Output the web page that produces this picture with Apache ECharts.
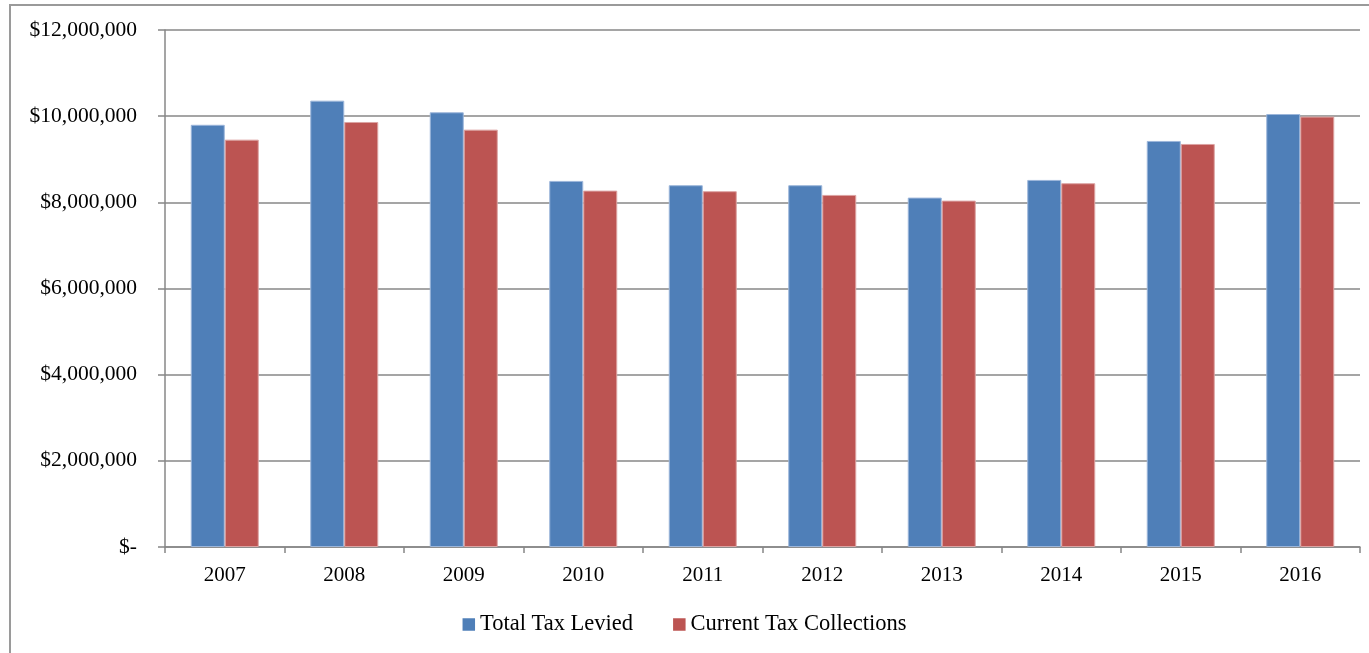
<!DOCTYPE html>
<html>
<head>
<meta charset="utf-8">
<script src="https://cdn.jsdelivr.net/npm/echarts@6/dist/echarts.min.js"></script>
<style>
  html, body { margin: 0; padding: 0; background: #ffffff; }
  #chart { width: 1369px; height: 653px; }
</style>
</head>
<body>
<div id="chart"></div>
<script>
// Fiscal years shown on the category axis
const years = ['2007', '2008', '2009', '2010', '2011', '2012', '2013', '2014', '2015', '2016'];

// Property tax levied vs. collected in the current year (dollars)
const totalTaxLevied = [9800000, 10360000, 10090000, 8497000, 8397000, 8397000, 8110000, 8520000, 9425000, 10050000];
const currentTaxCollections = [9455000, 9865000, 9687000, 8272000, 8258000, 8172000, 8040000, 8443000, 9355000, 9990000];

const seriesNames = ['Total Tax Levied', 'Current Tax Collections'];

const fontFamily = '"Liberation Serif", "DejaVu Serif", serif';
const axisGray = '#878787';

function dollarLabel(v) {
  if (v === 0) return '$-';
  return '$' + v.toLocaleString('en-US');
}

const chart = echarts.init(document.getElementById('chart'));

chart.setOption({
  animation: false,
  backgroundColor: '#ffffff',
  textStyle: { fontFamily: fontFamily, color: '#000000' },
  graphic: [{
    type: 'rect',
    shape: { x: 10, y: 5, width: 1400, height: 700 },
    style: { fill: 'none', stroke: '#9a9a9a', lineWidth: 2 },
    silent: true
  }],
  grid: { left: 165, right: 9, top: 30, bottom: 106 },
  legend: {
    top: 608,
    left: 'center',
    itemWidth: 12.5,
    itemHeight: 12.5,
    itemGap: 40,
    icon: 'rect',
    itemStyle: { borderWidth: 0 },
    textStyle: { fontFamily: fontFamily, fontSize: 22.5, color: '#000000' },
    data: seriesNames
  },
  xAxis: {
    type: 'category',
    data: years,
    axisLine: { lineStyle: { color: axisGray, width: 1.5 } },
    axisTick: { show: true, length: 6, alignWithLabel: false, lineStyle: { color: axisGray, width: 1.5 } },
    axisLabel: { fontFamily: fontFamily, fontSize: 21, color: '#000000', margin: 18 }
  },
  yAxis: {
    type: 'value',
    min: 0,
    max: 12000000,
    interval: 2000000,
    axisLine: { show: true, lineStyle: { color: axisGray, width: 1.5 } },
    axisTick: { show: true, length: 7, lineStyle: { color: axisGray, width: 1.5 } },
    splitLine: { show: true, lineStyle: { color: axisGray, width: 1.5 } },
    axisLabel: {
      fontFamily: fontFamily, fontSize: 21.5, color: '#000000', margin: 28,
      formatter: dollarLabel
    }
  },
  series: [
    {
      name: seriesNames[0],
      type: 'bar',
      data: totalTaxLevied,
      barWidth: 34,
      barGap: '0%',
      itemStyle: { color: '#4f7fb8', borderColor: '#9cb6da', borderWidth: 1 }
    },
    {
      name: seriesNames[1],
      type: 'bar',
      data: currentTaxCollections,
      barWidth: 34,
      barGap: '0%',
      itemStyle: { color: '#bc5452', borderColor: '#dca3a2', borderWidth: 1 }
    }
  ]
});
</script>
</body>
</html>
